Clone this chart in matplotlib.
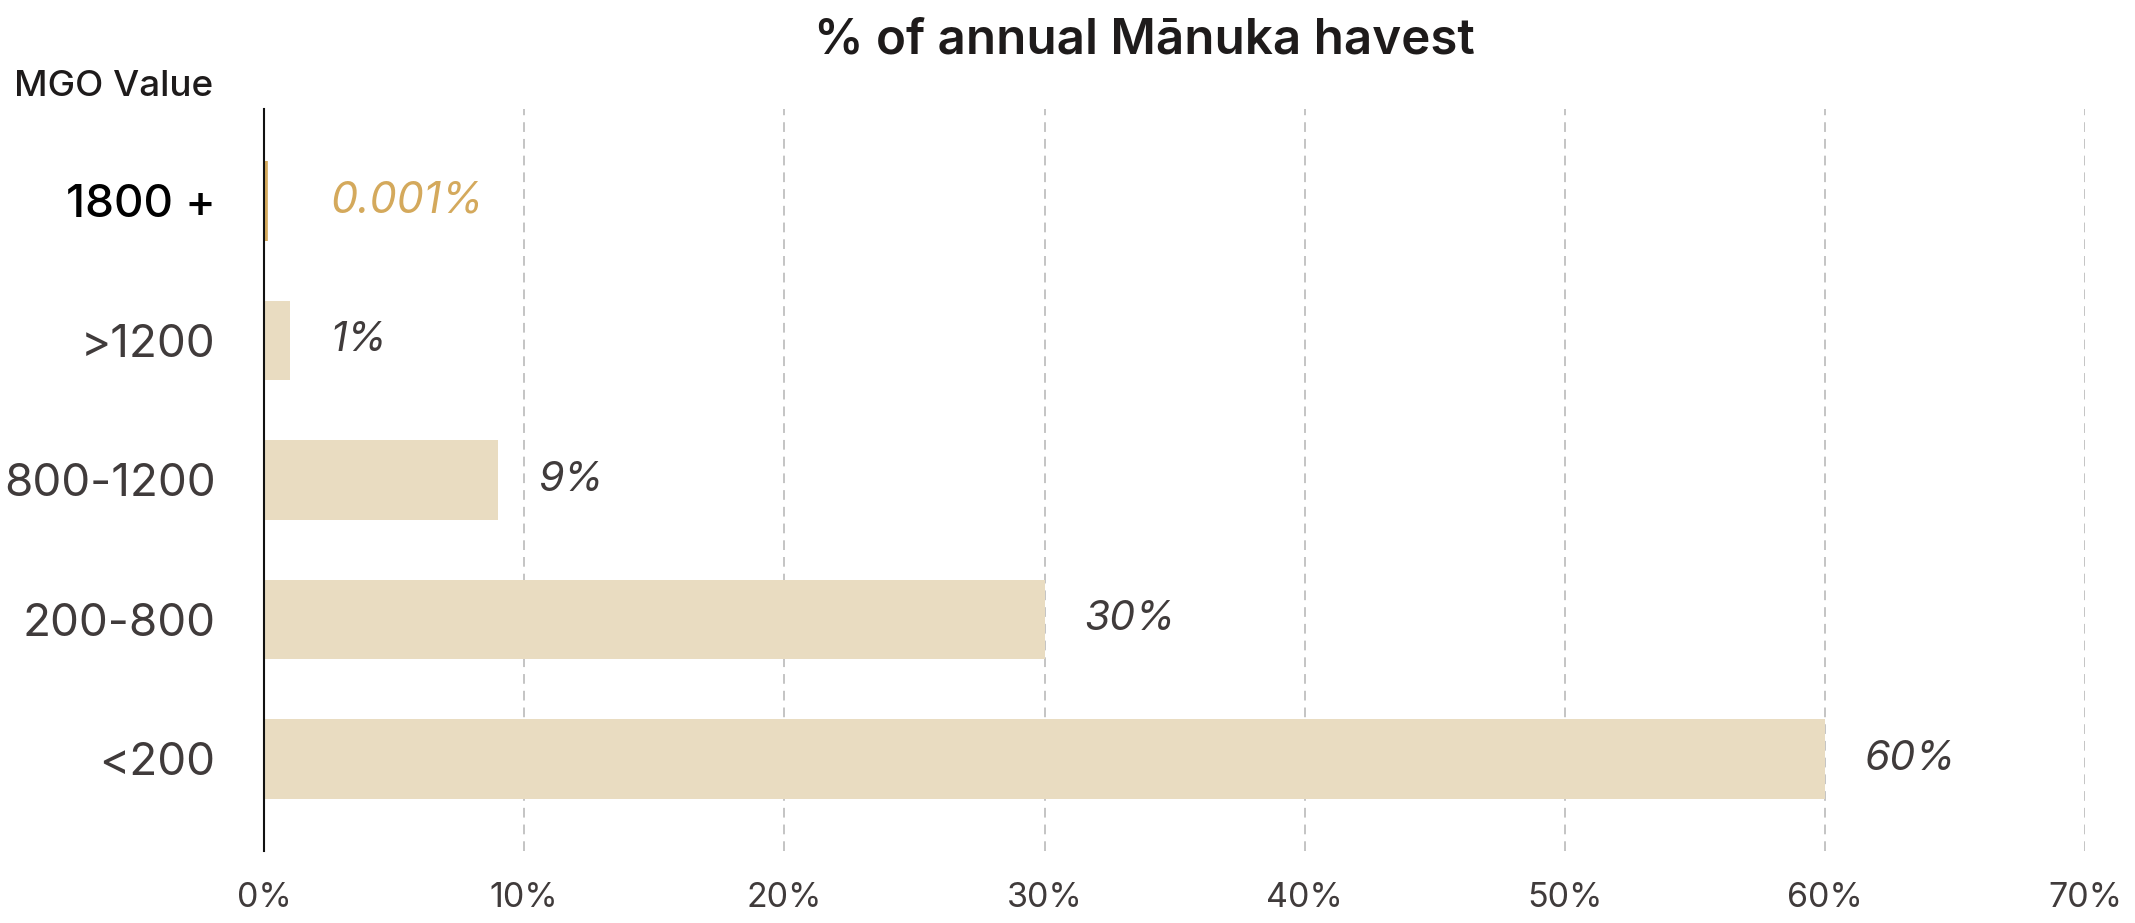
import matplotlib
matplotlib.use("Agg")
import matplotlib.pyplot as plt
from matplotlib.ticker import FuncFormatter

categories = ["1800 +", ">1200", "800-1200", "200-800", "<200"]
values = [0.001, 1, 9, 30, 60]
value_labels = ["0.001%", "1%", "9%", "30%", "60%"]
xticks = [0, 10, 20, 30, 40, 50, 60, 70]

BAR = "#E9DCC1"
GOLD = "#D4A95C"
GRAY = "#403B3B"
FONT = ["Inter", "DejaVu Sans"]

plt.rcParams["font.family"] = FONT

fig = plt.figure(figsize=(21.35, 9.23), dpi=100)
ax = fig.add_axes([0.1237, 0.078, 0.9766 - 0.1237, 0.882 - 0.078])

ypos = list(range(len(categories)))
colors = [GOLD] + [BAR] * (len(categories) - 1)
bars = ax.barh(ypos, values, height=0.57, color=colors, zorder=2)
bars[0].set_edgecolor(GOLD)
bars[0].set_linewidth(5.5)
bars[0].set_joinstyle("round")

ax.set_xlim(0, 70)
ax.set_ylim(4.66, -0.66)
ax.set_xticks(xticks)
ax.xaxis.set_major_formatter(FuncFormatter(lambda v, p: f"{v:.0f}%"))
ax.set_yticks(ypos)
ax.set_yticklabels(categories)

ax.grid(axis="x", linestyle=(0, (5, 3.6)), linewidth=1.4, color="#C4C4C4", zorder=0)
ax.set_axisbelow(True)
for s in ["top", "right", "bottom"]:
    ax.spines[s].set_visible(False)
ax.spines["left"].set_linewidth(1.5)
ax.spines["left"].set_color("#111111")
ax.spines["left"].set_zorder(5)

ax.tick_params(axis="x", length=0, pad=22, labelsize=24.5, labelcolor=GRAY)
ax.tick_params(axis="y", length=0, pad=35, labelsize=33, labelcolor=GRAY)
for i, t in enumerate(ax.get_yticklabels()):
    t.set_fontweight("normal")
    if i == 0:
        t.set_color("black")
        t.set_fontweight("medium")
for t in ax.get_xticklabels():
    t.set_fontweight("normal")

for i, (v, lab) in enumerate(zip(values, value_labels)):
    col = GOLD if i == 0 else GRAY
    off = 48 if i == 0 else 29
    fs = 31 if i == 0 else 29.5
    ax.annotate(lab, xy=(v, i), xytext=(off, 0), textcoords="offset points",
                ha="left", va="center", fontsize=fs, style="italic",
                fontweight="normal", color=col)

fig.text(0.536, 0.956, "% of annual Mānuka havest", ha="center", va="center",
         fontsize=35.5, fontweight="semibold", color="#1E1B1B")
fig.text(0.0066, 0.906, "MGO Value", ha="left", va="center",
         fontsize=26.5, fontweight="medium", color="#1E1B1B")

fig.savefig("out.png", dpi=100)
